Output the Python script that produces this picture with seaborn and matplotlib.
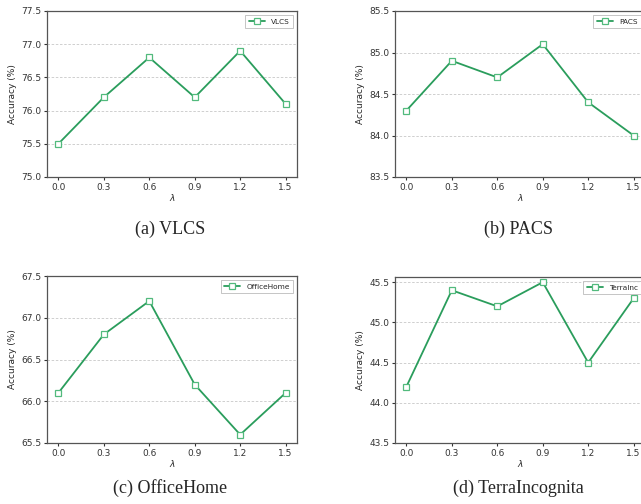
import matplotlib
matplotlib.use("Agg")
import matplotlib.pyplot as plt
import seaborn as sns
import pandas as pd

# lambda values shared by all panels
lambdas = [0.0, 0.3, 0.6, 0.9, 1.2, 1.5]

vlcs = [75.5, 76.2, 76.8, 76.2, 76.9, 76.1]
pacs = [84.3, 84.9, 84.7, 85.1, 84.4, 84.0]
officehome = [66.1, 66.8, 67.2, 66.2, 65.6, 66.1]
terrainc = [44.2, 45.4, 45.2, 45.5, 44.5, 45.3]

names = ["VLCS", "PACS", "OfficeHome", "TerraInc"]
captions = ["(a) VLCS", "(b) PACS", "(c) OfficeHome", "(d) TerraIncognita"]
ylims = [(75.0, 77.5), (83.5, 85.5), (65.5, 67.5), (43.5, None)]

sns.set_style("ticks")
plt.rcParams["font.family"] = ["DejaVu Sans"]

W, H = 641, 504
fig = plt.figure(figsize=(W / 100, H / 100), dpi=100)

# axes boxes in pixels: left, top, right, bottom
boxes = [(47, 11, 297, 177), (395, 11, 645, 177),
         (47, 276, 297, 443), (395, 277, 645, 443)]
cap_pos = [(170, 229), (519, 229), (170, 488), (518, 488)]

line_color = "#2a9d5c"

for i, series in enumerate([vlcs, pacs, officehome, terrainc]):
    l, t, r, b = boxes[i]
    ax = fig.add_axes([l / W, (H - b) / H, (r - l) / W, (b - t) / H])
    df = pd.DataFrame({"lam": lambdas, "acc": series})
    sns.lineplot(data=df, x="lam", y="acc", ax=ax, color=line_color,
                 marker="s", markersize=5, markerfacecolor="white",
                 markeredgecolor="#52ba7d", markeredgewidth=0.9,
                 linewidth=1.3, label=names[i])
    lo, hi = ylims[i]
    if hi is None:
        ax.set_ylim(bottom=lo)
    else:
        ax.set_ylim(lo, hi)
    ax.set_xticks(lambdas)
    ax.set_xticklabels([f"{v:.1f}" for v in lambdas])
    ax.yaxis.set_major_locator(plt.MultipleLocator(0.5))
    ax.yaxis.set_major_formatter(plt.FormatStrFormatter("%.1f"))
    ax.grid(axis="y", linestyle=(0, (3, 2)), color="#c8c8c8", linewidth=0.6)
    ax.set_axisbelow(True)
    ax.tick_params(labelsize=6.5, length=2.5, width=0.8, colors="#333333",
                   pad=1.5)
    for s in ax.spines.values():
        s.set_color("#555555")
        s.set_linewidth(0.9)
    ax.set_xlabel(r"$\lambda$", fontsize=6.5, labelpad=0.5)
    ax.set_ylabel("Accuracy (%)", fontsize=6.5, labelpad=3)
    leg = ax.legend(loc="upper right", fontsize=5.3, frameon=True,
                    fancybox=False, handlelength=2.2, borderpad=0.5,
                    markerscale=0.9)
    leg.get_frame().set_edgecolor("#aaaaaa")
    leg.get_frame().set_linewidth(0.6)
    cx, cy = cap_pos[i]
    fig.text(cx / W, (H - cy) / H, captions[i], ha="center", va="center",
             fontsize=13, family="Liberation Serif")

fig.savefig("out.png", dpi=100)
